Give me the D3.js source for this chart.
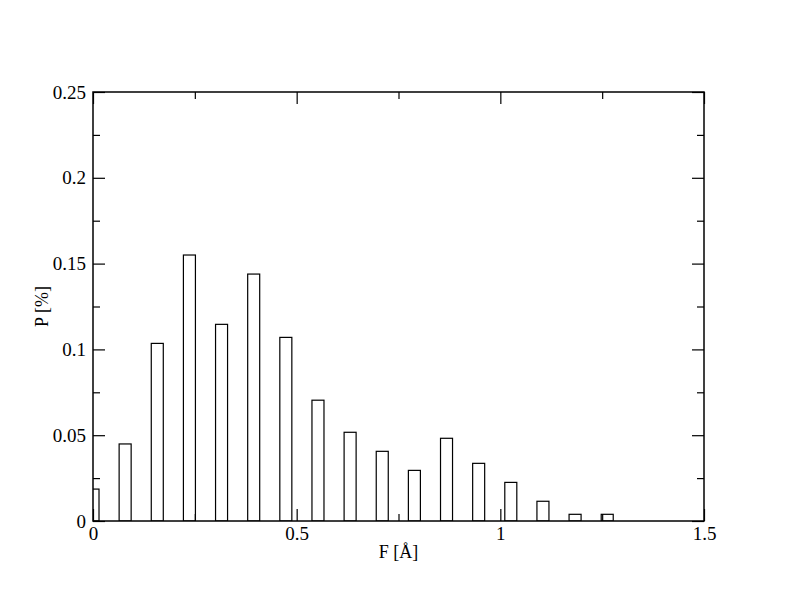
<!DOCTYPE html>
<html>
<head>
<meta charset="utf-8">
<script src="https://cdn.jsdelivr.net/npm/d3@7"></script>
<style>
html,body{margin:0;padding:0;background:#fff;}
svg{display:block;}
</style>
</head>
<body>
<svg id="chart" width="792" height="612"></svg>
<script>
// Data (bin centers in Å and probabilities)
const binCenters = [0.0, 0.0789, 0.1578, 0.2367, 0.3156, 0.3945, 0.4734, 0.5523, 0.6312, 0.7101, 0.789, 0.8679, 0.9468, 1.0257, 1.1046, 1.1835, 1.2624];
const probabilities = [0.0186, 0.0449, 0.1035, 0.155, 0.1146, 0.1439, 0.107, 0.0704, 0.0517, 0.0406, 0.0295, 0.0482, 0.0336, 0.0225, 0.0115, 0.0039, 0.0039];
const xMajorTicks = [0, 0.5, 1, 1.5];
const xMinorTicks = [0.25, 0.75, 1.25];
const yMajorTicks = [0, 0.05, 0.1, 0.15, 0.2, 0.25];
const yMinorTicks = [0.025, 0.075, 0.125, 0.175, 0.225];
const xLabels = ["0", "0.5", "1", "1.5"];
const yLabels = ["0", "0.05", "0.1", "0.15", "0.2", "0.25"];
const barWidthData = 0.0295;
const xTitle = "F [Å]";
const yTitle = "P [%]";

const FONT = "'Liberation Serif', 'Times New Roman', Times, serif";
const svg = d3.select("#chart");
const L = 93, R = 704, T = 92, B = 521;
const x = d3.scaleLinear().domain([0, 1.5]).range([L, R]);
const y = d3.scaleLinear().domain([0, 0.25]).range([B, T]);

svg.append("defs").append("clipPath").attr("id","clip")
  .append("rect").attr("x", L).attr("y", T).attr("width", R-L).attr("height", B-T);

const data = binCenters.map((c,i)=>({c, p: probabilities[i]}));
svg.append("g").attr("clip-path","url(#clip)")
  .selectAll("rect").data(data).join("rect")
  .attr("x", d => x(d.c - barWidthData/2))
  .attr("width", d => x(d.c + barWidthData/2) - x(d.c - barWidthData/2))
  .attr("y", d => y(d.p))
  .attr("height", d => y(0) - y(d.p))
  .attr("fill", "#fff").attr("stroke", "#000").attr("stroke-width", 1.2);

const major = 12, minor = 7;
const fmtX = d => xLabels[xMajorTicks.indexOf(d)];
const fmtY = d => yLabels[yMajorTicks.indexOf(d)];

svg.append("g").attr("transform", `translate(0,${B})`)
  .call(d3.axisBottom(x).tickValues(xMajorTicks).tickSize(-major).tickFormat(fmtX).tickPadding(6));
svg.append("g").attr("transform", `translate(0,${B})`)
  .call(d3.axisBottom(x).tickValues(xMinorTicks).tickSize(-minor).tickFormat(""));
svg.append("g").attr("transform", `translate(0,${T})`)
  .call(d3.axisTop(x).tickValues(xMajorTicks).tickSize(-major).tickFormat(""));
svg.append("g").attr("transform", `translate(0,${T})`)
  .call(d3.axisTop(x).tickValues(xMinorTicks).tickSize(-minor).tickFormat(""));
svg.append("g").attr("transform", `translate(${L},0)`)
  .call(d3.axisLeft(y).tickValues(yMajorTicks).tickSize(-major).tickFormat(fmtY).tickPadding(7));
svg.append("g").attr("transform", `translate(${L},0)`)
  .call(d3.axisLeft(y).tickValues(yMinorTicks).tickSize(-minor).tickFormat(""));
svg.append("g").attr("transform", `translate(${R},0)`)
  .call(d3.axisRight(y).tickValues(yMajorTicks).tickSize(-major).tickFormat(""));
svg.append("g").attr("transform", `translate(${R},0)`)
  .call(d3.axisRight(y).tickValues(yMinorTicks).tickSize(-minor).tickFormat(""));

svg.selectAll(".domain").remove();
svg.selectAll("g").attr("font-family", null);
svg.selectAll(".tick line").attr("stroke","#000").attr("stroke-width",1.2);
svg.selectAll(".tick text").style("font-family", FONT).style("font-size","19px").attr("fill","#000");

svg.append("rect").attr("x", L).attr("y", T).attr("width", R-L).attr("height", B-T)
  .attr("fill","none").attr("stroke","#000").attr("stroke-width",1.5);

svg.append("text").attr("x", (L+R)/2).attr("y", 558).attr("text-anchor","middle")
  .style("font-family", FONT).style("font-size","18px").text(xTitle);
svg.append("text").attr("transform", `translate(48,${(T+B)/2}) rotate(-90)`)
  .attr("text-anchor","middle").style("font-family", FONT).style("font-size","18px").text(yTitle);
</script>
</body>
</html>
